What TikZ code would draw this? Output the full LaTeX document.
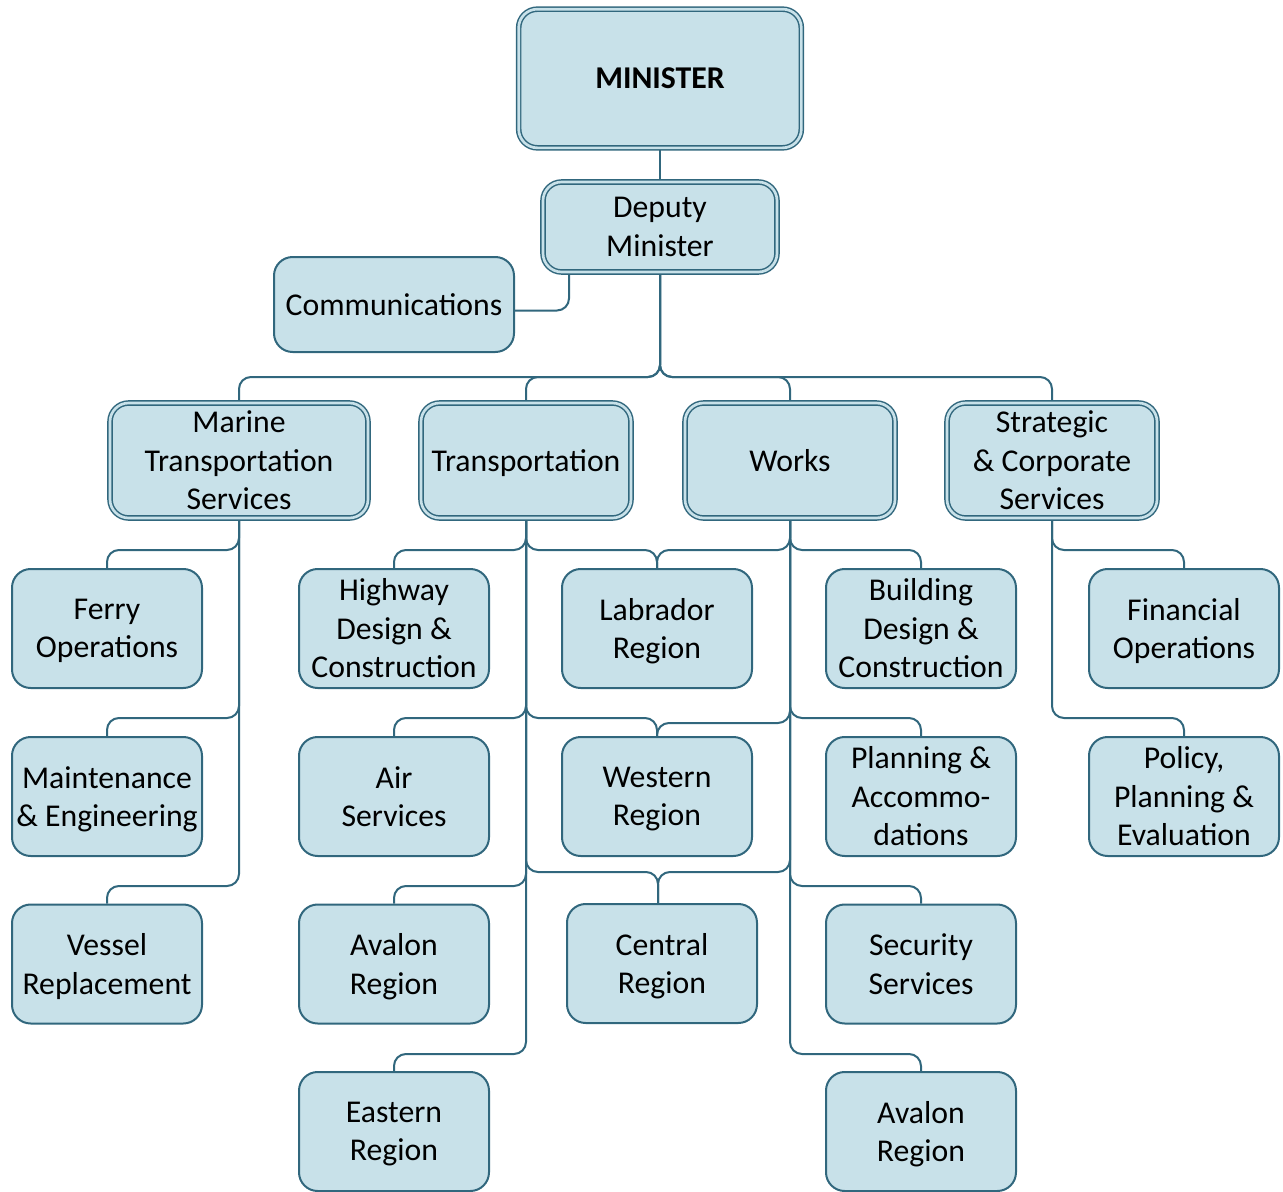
\documentclass[tikz,border=0pt]{standalone}
\usepackage{fontspec}
\setmainfont{Carlito}
\usetikzlibrary{backgrounds,calc}
\definecolor{boxfill}{RGB}{200,225,233}
\definecolor{boxline}{RGB}{49,103,125}
\newcommand\nodp[1]{\raisebox{0pt}[\height][0pt]{#1}}
\begin{document}
\begin{tikzpicture}[x=0.75pt,y=-0.75pt,
  base/.style={rectangle, rounded corners=14pt, fill=boxfill, align=center, inner sep=0pt,
    font=\fontsize{23.8}{28.9}\selectfont, text=black},
  single/.style={base, draw=boxline, line width=1.5pt},
  dbl/.style={base, draw=boxline, line width=1.1pt, double=boxfill, double distance=2pt},
  leaf/.style={single, minimum width=142.5pt, minimum height=89.25pt},
  head/.style={dbl, minimum width=157.5pt, minimum height=86.25pt},
  conn/.style={draw=boxline, line width=1.5pt, rounded corners=9pt}]
\useasboundingbox (0,0) rectangle (1283,1192);

% top
\node[dbl, minimum width=212pt, minimum height=104pt] (min) at (660,78.5) {\textbf{MINISTER}};
\node[dbl, minimum width=175.5pt, minimum height=67.5pt] (dm) at (660,227) {Deputy\\Minister};
\node[single, minimum width=180pt, minimum height=71.25pt] (comm) at (394,304.5) {Communications};

% level 1
\node[head, minimum width=193.5pt] (mt) at (239,460.5) {Marine\\Transportation\\Services};
\node[head] (tr) at (526,460.5) {\nodp{Transportation}};
\node[head] (wk) at (790,460.5) {Works};
\node[head] (sc) at (1052,460.5) {Strategic\\\& Corporate\\Services};

% level 2
\node[leaf] (fe) at (107,628.5) {Ferry\\\nodp{Operations}};
\node[leaf] (me) at (107,796.5) {Maintenance\\\nodp{\& Engineering}};
\node[leaf] (vr) at (107,964) {Vessel\\\nodp{Replacement}};

\node[leaf] (hw) at (394,628.5) {Highway\\Design \&\\Construction};
\node[leaf] (air) at (394,796.5) {Air\\Services};
\node[leaf] (avA) at (394,964) {Avalon\\\nodp{Region}};
\node[leaf] (ea) at (394,1131.5) {Eastern\\\nodp{Region}};

\node[leaf] (lab) at (657,628.5) {Labrador\\\nodp{Region}};
\node[leaf] (we) at (657,796.5) {Western\\\nodp{Region}};
\node[leaf] (cen) at (662,963.5) {Central\\\nodp{Region}};

\node[leaf] (bd) at (921,628.5) {Building\\Design \&\\Construction};
\node[leaf] (pa) at (921,796.5) {Planning \&\\Accommo-\\dations};
\node[leaf] (se) at (921,964) {Security\\Services};
\node[leaf] (avB) at (921,1131.5) {Avalon\\\nodp{Region}};

\node[leaf] (fo) at (1184,628.5) {Financial\\\nodp{Operations}};
\node[leaf] (pp) at (1184,796.5) {Policy,\\Planning \&\\Evaluation};

% helper levels
\coordinate (b0) at (0,377);
\coordinate (r1) at (0,550);
\coordinate (r2) at (0,718);
\coordinate (r2b) at (0,723);
\coordinate (r3) at (0,886);
\coordinate (r3c) at (0,872);
\coordinate (r4) at (0,1054);
\coordinate (dmc) at ([xshift=-68.25pt]dm.south);
\coordinate (cin) at ([xshift=-3pt]cen.north);

\begin{scope}[on background layer]
\draw[conn] (min.south) -- (dm.north);
\draw[conn] (dmc) |- ([yshift=-4.5pt]comm.east);
\foreach \n in {mt,tr,wk,sc}
  \draw[conn] (dm.south) |- (\n.north |- b0) -- (\n.north);
% marine
\draw[conn] (mt.south) |- (fe.north |- r1) -- (fe.north);
\draw[conn] (mt.south) |- (me.north |- r2) -- (me.north);
\draw[conn] (mt.south) |- (vr.north |- r3) -- (vr.north);
% transportation
\draw[conn] (tr.south) |- (hw.north |- r1) -- (hw.north);
\draw[conn] (tr.south) |- (lab.north |- r1) -- (lab.north);
\draw[conn] (tr.south) |- (air.north |- r2) -- (air.north);
\draw[conn] (tr.south) |- (we.north |- r2) -- (we.north);
\draw[conn] (tr.south) |- (avA.north |- r3) -- (avA.north);
\draw[conn] (tr.south) |- (cin |- r3c) -- (cin);
\draw[conn] (tr.south) |- (ea.north |- r4) -- (ea.north);
% works
\draw[conn] (wk.south) |- (lab.north |- r1) -- (lab.north);
\draw[conn] (wk.south) |- (bd.north |- r1) -- (bd.north);
\draw[conn] (wk.south) |- (we.north |- r2b) -- (we.north);
\draw[conn] (wk.south) |- (pa.north |- r2) -- (pa.north);
\draw[conn] (wk.south) |- (cin |- r3c) -- (cin);
\draw[conn] (wk.south) |- (se.north |- r3) -- (se.north);
\draw[conn] (wk.south) |- (avB.north |- r4) -- (avB.north);
% strategic
\draw[conn] (sc.south) |- (fo.north |- r1) -- (fo.north);
\draw[conn] (sc.south) |- (pp.north |- r2) -- (pp.north);
\end{scope}
\end{tikzpicture}
\end{document}
